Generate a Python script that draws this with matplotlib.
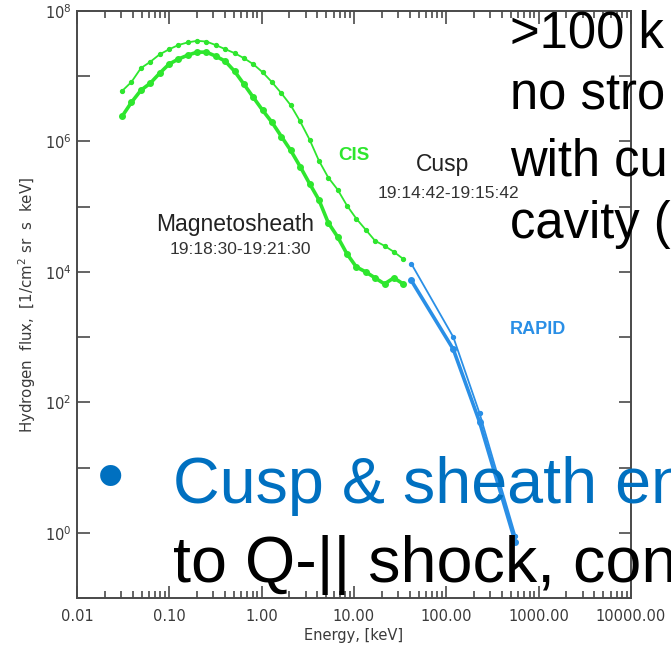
import math
import matplotlib
matplotlib.use("Agg")
import matplotlib.pyplot as plt
from matplotlib.ticker import LogLocator, FuncFormatter, NullFormatter

# CIS energy channels (keV)
cis_energy = [0.0308, 0.0389, 0.0492, 0.0621, 0.0785, 0.0991, 0.125, 0.158, 0.200,
              0.252, 0.319, 0.403, 0.509, 0.643, 0.811, 1.025, 1.295, 1.636, 2.066,
              2.61, 3.30, 4.16, 5.26, 6.64, 8.39, 10.6, 13.4, 16.9, 21.4, 27.0, 34.1]

# Cusp interval 19:14:42-19:15:42, CIS hydrogen flux
cusp_cis = [5.94e6, 8.17e6, 1.33e7, 1.66e7, 2.16e7, 2.58e7, 3.00e7, 3.30e7, 3.49e7,
            3.40e7, 3.00e7, 2.60e7, 2.26e7, 1.89e7, 1.53e7, 1.15e7, 8.09e6, 5.47e6,
            3.58e6, 2.03e6, 1.07e6, 5.10e5, 2.80e5, 1.83e5, 1.04e5, 6.54e4, 4.43e4,
            3.00e4, 2.51e4, 2.03e4, 1.58e4]

# Magnetosheath interval 19:18:30-19:21:30, CIS hydrogen flux
sheath_cis = [2.43e6, 3.98e6, 6.09e6, 7.80e6, 1.11e7, 1.53e7, 1.83e7, 2.10e7, 2.34e7,
              2.34e7, 2.03e7, 1.70e7, 1.19e7, 7.53e6, 4.75e6, 3.00e6, 1.96e6, 1.19e6,
              7.27e5, 4.12e5, 2.26e5, 1.28e5, 5.68e4, 3.45e4, 1.89e4, 1.19e4, 1.00e4,
              8.09e3, 6.54e3, 8.09e3, 6.54e3]

# RAPID energy channels (keV) and fluxes
rapid_energy = [41.7, 119.0, 229.0, 560.0]
cusp_rapid = [1.34e4, 1.00e3, 68.0, 0.90]
sheath_rapid = [7.4e3, 6.5e2, 50.0, 0.71]

x_ticks = [0.01, 0.1, 1.0, 10.0, 100.0, 1000.0, 10000.0]

green = "#2ee62e"
blue = "#2a8fe6"
axis_gray = "#4a4a4a"
label_gray = "#3a3a3a"

fig = plt.figure(figsize=(6.71, 6.48), dpi=100)
fig.patch.set_facecolor("white")
ax = fig.add_axes([77 / 671, 1 - 598 / 648, (631 - 77) / 671, (598 - 11) / 648])

ax.plot(cis_energy, cusp_cis, color=green, lw=1.3, marker="o", ms=2.8,
        mec=green, mfc=green, zorder=3)
ax.plot(cis_energy, sheath_cis, color=green, lw=2.6, marker="o", ms=4.0,
        mec=green, mfc=green, zorder=3)
ax.plot(rapid_energy, cusp_rapid, color=blue, lw=1.3, marker="o", ms=2.8,
        mec=blue, mfc=blue, zorder=3)
ax.plot(rapid_energy, sheath_rapid, color=blue, lw=2.6, marker="o", ms=4.0,
        mec=blue, mfc=blue, zorder=3)

ax.set_xscale("log")
ax.set_yscale("log")
ax.set_xlim(0.01, 10000)
ax.set_ylim(1e-1, 1e8)

ax.set_xticks(x_ticks)
ax.xaxis.set_minor_locator(LogLocator(base=10, subs=tuple(range(2, 10)), numticks=20))
ax.xaxis.set_major_formatter(FuncFormatter(lambda v, p: "%.2f" % v))
ax.xaxis.set_minor_formatter(NullFormatter())

ax.yaxis.set_major_locator(LogLocator(base=10, subs=(1.0,), numticks=20))
ax.yaxis.set_minor_locator(plt.NullLocator())


def ylab(v, pos):
    e = int(round(math.log10(v)))
    return r"$10^{%d}$" % e if e % 2 == 0 else ""


ax.yaxis.set_major_formatter(FuncFormatter(ylab))

for s in ax.spines.values():
    s.set_color(axis_gray)
    s.set_linewidth(1.4)

ax.tick_params(which="both", direction="in", top=True, right=True,
               color=axis_gray, width=1.2, labelcolor=label_gray)
ax.tick_params(which="major", length=9, labelsize=10.5)
ax.tick_params(which="minor", length=5)
ax.tick_params(axis="x", which="major", pad=8)
ax.tick_params(axis="y", which="major", pad=4)

ax.set_xlabel("Energy, [keV]", fontsize=10.5, color=label_gray, labelpad=3)
ax.set_ylabel(r"Hydrogen  flux,  [1/cm$^2$ sr  s  keV]", fontsize=10.8,
              color=label_gray, labelpad=5)

# Interval annotations
sans = "Liberation Sans"
fig.text(235 / 671, 1 - 224 / 648, "Magnetosheath", family=sans, fontsize=16.5,
         color="#222222", ha="center", va="center")
fig.text(240 / 671, 1 - 250 / 648, "19:18:30-19:21:30", family=sans, fontsize=12.5,
         color="#333333", ha="center", va="center")
fig.text(443 / 671, 1 - 165 / 648, "Cusp", family=sans, fontsize=16.5,
         color="#222222", ha="center", va="center")
fig.text(448 / 671, 1 - 194 / 648, "19:14:42-19:15:42", family=sans, fontsize=12.5,
         color="#333333", ha="center", va="center")
fig.text(354 / 671, 1 - 155 / 648, "CIS", family=sans, fontsize=13.5,
         weight="bold", color=green, ha="center", va="center")
fig.text(538 / 671, 1 - 330 / 648, "RAPID", family=sans, fontsize=13,
         weight="bold", color=blue, ha="center", va="center")

# Slide text laid over the figure
slide_black = "#000000"
slide_blue = "#0070c0"
top_lines = [">100 k", "no stro", "with cu", "cavity ("]
top_baselines = [47, 110, 175, 238]
for line, yb in zip(top_lines, top_baselines):
    fig.text(510 / 671, 1 - yb / 648, line, family=sans, fontsize=36.5,
             color=slide_black, ha="left", va="baseline", zorder=10)

fig.text(111 / 671, 1 - 481 / 648, "\u2022", family=sans, fontsize=56,
         color=slide_blue, ha="center", va="center", zorder=10)
fig.text(173 / 671, 1 - 503 / 648, "Cusp & sheath en", family=sans, fontsize=46.5,
         color=slide_blue, ha="left", va="baseline", zorder=10)
fig.text(173 / 671, 1 - 582 / 648, "to Q-|| shock, con", family=sans, fontsize=46.5,
         color=slide_black, ha="left", va="baseline", zorder=10)

fig.savefig("out.png", dpi=100, facecolor="white")
